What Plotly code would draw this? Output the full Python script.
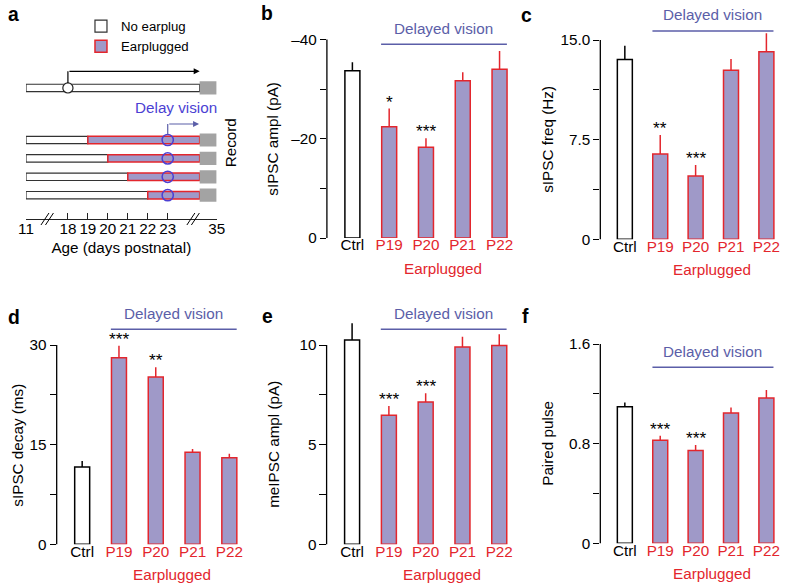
import plotly.graph_objects as go

# Layout is designed in reference-image pixels (788 x 585).  The rendered page is
# photographed with a small fixed rescale (about 0.98 horizontally, 0.986 vertically,
# 8 px side inset), so reference pixels are converted to paper fractions through that
# mapping and absolute pixel sizes are enlarged by S.
REF_W, REF_H = 788, 585
PAGE_W = 788
SX, SY = 0.98, 0.986
INSET = 8
PAGE_H = round(REF_H / SY)
S = 1 / ((SX + SY) / 2)

def pxx(x):
    return (x - INSET) / (SX * PAGE_W)

def pxy(y):
    return 1 - y / REF_H

def sz(v):
    return v * S

# ---------------- data ----------------
categories = ["Ctrl", "P19", "P20", "P21", "P22"]

# b: sIPSC amplitude (pA)
ampl_vals = [-33.7, -22.4, -18.3, -31.7, -34.0]
ampl_err = [1.7, 3.7, 1.8, 1.7, 3.7]
ampl_sig = ["", "*", "***", "", ""]
# c: sIPSC frequency (Hz)
freq_vals = [13.54, 6.42, 4.76, 12.72, 14.12]
freq_err = [1.03, 1.43, 0.83, 0.85, 1.38]
freq_sig = ["", "**", "***", "", ""]
# d: sIPSC decay (ms)
decay_vals = [11.63, 28.09, 25.18, 13.84, 13.04]
decay_err = [0.91, 1.81, 1.46, 0.50, 0.60]
decay_sig = ["", "***", "**", "", ""]
# e: meIPSC amplitude (pA)
mini_vals = [10.25, 6.47, 7.14, 9.90, 9.98]
mini_err = [0.84, 0.47, 0.44, 0.52, 0.56]
mini_sig = ["", "***", "***", "", ""]
# f: paired pulse ratio
ppr_vals = [1.096, 0.827, 0.746, 1.046, 1.166]
ppr_err = [0.035, 0.037, 0.043, 0.045, 0.064]
ppr_sig = ["", "***", "***", "", ""]

# a: rearing schedule
age_ticks = [11, 18, 19, 20, 21, 22, 23, 35]
plug_days = [19, 20, 21, 22]
control_event_day = 18
vision_day = 23
start_day = 11
record_day = 35

# ---------------- style ----------------
PURPLE = "#9f99c8"
RED = "#e3262d"
BLUE = "#5b5ea8"
VIOLET = "#4b3fd3"
FONT = "Liberation Sans, Arial, sans-serif"
F15 = sz(15)

fig = go.Figure()
shapes = []
annotations = []

# ----- panel a : broken age axis -----
AX_A = [15.9, 25.45]          # 11 and 35 sit at the ends of a broken axis
REC_START = 24.6              # rearing bars end here (after the break)
def age_pos(d):
    if d <= start_day:
        return AX_A[0]
    if d >= record_day:
        return AX_A[1]
    return d

A_DOM_X = [26, 216.7]
A_DOM_Y = [0, 219]
ROW_PX = 18.4
ROW0_PX = 140
ctrl_row = -2.83
plug_rows = [0, 1, 2, 3]
YR_A = [(A_DOM_Y[1] - ROW0_PX) / ROW_PX, (A_DOM_Y[0] - ROW0_PX) / ROW_PX]

def a_px(d, r):
    px = A_DOM_X[0] + (d - AX_A[0]) / (AX_A[1] - AX_A[0]) * (A_DOM_X[1] - A_DOM_X[0])
    py = ROW0_PX + r * ROW_PX
    return px, py

all_rows = [ctrl_row] + plug_rows
white_end = [REC_START] + [age_pos(d) for d in plug_days]
fig.add_trace(go.Bar(
    name="No earplug", orientation="h", y=all_rows,
    base=[age_pos(start_day)] * len(all_rows),
    x=[e - age_pos(start_day) for e in white_end],
    width=0.4, marker=dict(color="white", line=dict(color="#333333", width=1.2)),
    xaxis="x", yaxis="y", hoverinfo="skip"))
fig.add_trace(go.Bar(
    name="Earplugged", orientation="h", y=plug_rows,
    base=[age_pos(d) for d in plug_days],
    x=[REC_START - age_pos(d) for d in plug_days],
    width=0.4, marker=dict(color=PURPLE, line=dict(color=RED, width=1.5)),
    xaxis="x", yaxis="y", hoverinfo="skip"))
fig.add_trace(go.Bar(
    name="Record", orientation="h", y=all_rows,
    base=[REC_START] * len(all_rows), x=[AX_A[1] - REC_START] * len(all_rows),
    width=0.72, marker=dict(color="#a3a3a3", line=dict(width=0)),
    xaxis="x", yaxis="y", showlegend=False, hoverinfo="skip"))
fig.add_trace(go.Scatter(
    x=[age_pos(control_event_day)], y=[ctrl_row], mode="markers",
    marker=dict(size=sz(10), color="white", line=dict(color="#222222", width=1.2)),
    xaxis="x", yaxis="y", cliponaxis=False, showlegend=False, hoverinfo="skip"))
fig.add_trace(go.Scatter(
    x=[age_pos(vision_day)] * len(plug_rows), y=plug_rows, mode="markers",
    marker=dict(size=sz(11), color="rgba(0,0,0,0)", line=dict(color=VIOLET, width=1.5)),
    xaxis="x", yaxis="y", cliponaxis=False, showlegend=False, hoverinfo="skip"))

# arrows in panel a
arr_ctrl_y = ctrl_row - 0.9
shapes.append(dict(type="line", xref="x", yref="y", x0=age_pos(control_event_day), x1=age_pos(control_event_day),
                   y0=ctrl_row - 0.27, y1=arr_ctrl_y, line=dict(color="black", width=1.2)))
annotations.append(dict(xref="x", yref="y", axref="x", ayref="y", x=REC_START, y=arr_ctrl_y,
                        ax=age_pos(control_event_day), ay=arr_ctrl_y, text="", showarrow=True,
                        arrowhead=2, arrowsize=1, arrowwidth=1.2, arrowcolor="black"))
arr_vis_y = plug_rows[0] - 0.87
shapes.append(dict(type="line", xref="x", yref="y", x0=age_pos(vision_day), x1=age_pos(vision_day),
                   y0=plug_rows[0] - 0.3, y1=arr_vis_y, line=dict(color=BLUE, width=1.2)))
annotations.append(dict(xref="x", yref="y", axref="x", ayref="y", x=REC_START - 0.03, y=arr_vis_y,
                        ax=age_pos(vision_day), ay=arr_vis_y, text="", showarrow=True,
                        arrowhead=2, arrowsize=1, arrowwidth=1.2, arrowcolor=BLUE))
annotations.append(dict(xref="x", yref="y", x=23.4, y=-1.75, text="Delay vision", showarrow=False,
                        font=dict(size=F15, color=VIOLET)))
rpx, rpy = a_px(26.19, 0.16)
annotations.append(dict(xref="paper", yref="paper", x=pxx(rpx), y=pxy(rpy), text="Record",
                        showarrow=False, textangle=-90, xanchor="center", yanchor="middle",
                        font=dict(size=F15, color="black")))
# axis break marks
for d in [16.95, 24.26]:
    xb, _ = a_px(d, 0)
    yb = A_DOM_Y[1]
    for off in [0, 4.5]:
        shapes.append(dict(type="line", xref="paper", yref="paper",
                           x0=pxx(xb - 6 + off), y0=pxy(yb + 6),
                           x1=pxx(xb + 2 + off), y1=pxy(yb - 6),
                           line=dict(color="black", width=1)))
annotations.append(dict(xref="paper", yref="paper", x=pxx(14), y=pxy(14), text="<b>a</b>",
                        showarrow=False, xanchor="center", yanchor="middle",
                        font=dict(size=sz(19), color="black")))

# ----- bar panels -----
XR = [-0.693, 4.3]
EXT = 30   # headroom (reference px) above each value axis so tall error bars are not clipped

panels = [
    dict(n=2, letter="b", ax=327, sp=36.8, yt=39.5, yb=238, vals=ampl_vals, err=ampl_err, sig=ampl_sig,
         top=-40, tickvals=[0, -10, -20, -30, -40], ticktext=["0", "", "–20", "", "–40"],
         title="sIPSC ampl (pA)", title_x=273, line_px=44.3, letter_xy=(267, 13)),
    dict(n=3, letter="c", ax=600.5, sp=35.4, yt=40, yb=239.3, vals=freq_vals, err=freq_err, sig=freq_sig,
         top=15, tickvals=[0, 3.75, 7.5, 11.25, 15], ticktext=["0", "", "7.5", "", "15.0"],
         title="sIPSC freq (Hz)", title_x=548.3, line_px=31, letter_xy=(527, 15)),
    dict(n=4, letter="d", ax=56.7, sp=36.8, yt=345, yb=544.3, vals=decay_vals, err=decay_err, sig=decay_sig,
         top=30, tickvals=[0, 7.5, 15, 22.5, 30], ticktext=["0", "", "15", "", "30"],
         title="sIPSC decay (ms)", title_x=18, line_px=329.3, letter_xy=(14, 317)),
    dict(n=5, letter="e", ax=326.7, sp=36.8, yt=345, yb=544.3, vals=mini_vals, err=mini_err, sig=mini_sig,
         top=10, tickvals=[0, 2.5, 5, 7.5, 10], ticktext=["0", "", "5", "", "10"],
         title="meIPSC ampl (pA)", title_x=273.3, line_px=329.3, letter_xy=(268, 316)),
    dict(n=6, letter="f", ax=600.5, sp=35.4, yt=344, yb=543.3, vals=ppr_vals, err=ppr_err, sig=ppr_sig,
         top=1.6, tickvals=[0, 0.4, 0.8, 1.2, 1.6], ticktext=["0", "", "0.8", "", "1.6"],
         title="Paired pulse", title_x=548.3, line_px=367.3, letter_xy=(526, 316)),
]

tick_text_x = ["Ctrl"] + ["<span style='color:%s'>%s</span>" % (RED, c) for c in categories[1:]]

layout_axes = {}
for p in panels:
    n = p["n"]
    xa, ya = "x%d" % n, "y%d" % n
    sign = -1 if p["top"] < 0 else 1
    span_px = p["yb"] - p["yt"]
    dom_top_px = max(p["yt"] - EXT, 0)
    ext_px = p["yt"] - dom_top_px
    top_ext = p["top"] * (span_px + ext_px) / span_px
    full_px = p["yb"] - dom_top_px
    bw = 15.0 / p["sp"]

    def up(e):
        return dict(type="data", symmetric=False,
                    array=[v if sign > 0 else 0 for v in e],
                    arrayminus=[0 if sign > 0 else v for v in e],
                    thickness=1.5, width=0)
    ctrl_err = up(p["err"][:1]); ctrl_err["color"] = "black"
    plug_err = up(p["err"][1:]); plug_err["color"] = RED
    fig.add_trace(go.Bar(x=categories[:1], y=p["vals"][:1], width=bw, error_y=ctrl_err,
                         marker=dict(color="white", line=dict(color="black", width=1.5)),
                         xaxis=xa, yaxis=ya, showlegend=False, hoverinfo="skip"))
    fig.add_trace(go.Bar(x=categories[1:], y=p["vals"][1:], width=bw, error_y=plug_err,
                         marker=dict(color=PURPLE, line=dict(color=RED, width=1.5)),
                         xaxis=xa, yaxis=ya, showlegend=False, hoverinfo="skip"))
    for c, v, e, s in zip(categories, p["vals"], p["err"], p["sig"]):
        if s:
            annotations.append(dict(xref=xa, yref=ya, x=c, y=v + sign * e, text=s, showarrow=False,
                                    yanchor="bottom", yshift=sz(-5), font=dict(size=sz(17), color="black")))
    dom_w = (XR[1] - XR[0]) * p["sp"]
    layout_axes["xaxis%d" % n] = dict(
        domain=[pxx(p["ax"]), min(pxx(p["ax"] + dom_w), 1)], anchor=ya, type="category",
        range=XR, showline=False, ticks="", tickvals=categories, ticktext=tick_text_x,
        ticklabelstandoff=round(sz(-4)),
        tickfont=dict(size=F15, color="black"), showgrid=False, zeroline=False, fixedrange=True)
    layout_axes["yaxis%d" % n] = dict(
        domain=[pxy(p["yb"]), pxy(dom_top_px)], anchor=xa, range=[0, top_ext],
        tickvals=p["tickvals"], ticktext=p["ticktext"], ticks="outside", ticklen=sz(6), tickwidth=1.3,
        tickcolor="black", showline=False,
        tickfont=dict(size=F15, color="black"), showgrid=False, zeroline=False, fixedrange=True)
    # value-axis spine, from 0 to the last tick
    shapes.append(dict(type="line", xref="%s domain" % xa, yref="%s domain" % ya,
                       x0=0, x1=0, y0=0, y1=span_px / full_px,
                       line=dict(color="black", width=1.3)))
    annotations.append(dict(xref="paper", yref="paper", x=pxx(p["title_x"]),
                            y=pxy((p["yt"] + p["yb"]) / 2), text=p["title"], textangle=-90,
                            showarrow=False, xanchor="center", yanchor="middle",
                            font=dict(size=F15, color="black")))
    # "Delayed vision" bracket
    yfrac = (p["yb"] - p["line_px"]) / full_px
    fx = lambda c: (c - XR[0]) / (XR[1] - XR[0])
    shapes.append(dict(type="line", xref="%s domain" % xa, yref="%s domain" % ya,
                       x0=fx(0.78), x1=fx(4.2), y0=yfrac, y1=yfrac, line=dict(color=BLUE, width=1.4)))
    annotations.append(dict(xref="%s domain" % xa, yref="%s domain" % ya, x=fx(2.49), y=yfrac,
                            yshift=sz(16), text="Delayed vision", showarrow=False, yanchor="middle",
                            font=dict(size=F15, color=BLUE)))
    annotations.append(dict(xref=xa, yref="%s domain" % ya, x=2.45, y=0, yshift=sz(-30),
                            text="Earplugged", showarrow=False, yanchor="middle",
                            font=dict(size=F15, color=RED)))
    lx, ly = p["letter_xy"]
    annotations.append(dict(xref="paper", yref="paper", x=pxx(lx), y=pxy(ly),
                            text="<b>%s</b>" % p["letter"], showarrow=False,
                            xanchor="center", yanchor="middle", font=dict(size=sz(19), color="black")))

fig.update_layout(
    autosize=True,
    margin=dict(l=0, r=0, t=0, b=0, pad=0),
    paper_bgcolor="white", plot_bgcolor="rgba(0,0,0,0)",
    font=dict(family=FONT, size=F15, color="black"),
    barmode="overlay",
    xaxis=dict(domain=[pxx(A_DOM_X[0]), pxx(A_DOM_X[1])], anchor="y", range=AX_A,
               tickvals=[age_pos(d) for d in age_ticks], ticktext=[str(d) for d in age_ticks],
               ticks="inside", ticklen=sz(6), tickwidth=1.2, tickcolor="#222222",
               ticklabelstandoff=round(sz(-4)),
               showline=True, linewidth=1.2, linecolor="#222222", showgrid=False, zeroline=False,
               tickfont=dict(size=F15), title=dict(text="Age (days postnatal)", standoff=sz(5),
                                                   font=dict(size=F15)), fixedrange=True),
    yaxis=dict(domain=[pxy(A_DOM_Y[1]), pxy(A_DOM_Y[0])], anchor="x", range=YR_A,
               visible=False, fixedrange=True),
    legend=dict(x=pxx(81), y=pxy(11), xanchor="left", yanchor="top",
                bgcolor="rgba(0,0,0,0)", font=dict(size=sz(13)), traceorder="normal"),
    shapes=shapes, annotations=annotations,
    **layout_axes,
)

# graph div pinned at the page's top-left corner
fig.write_html("out.html",
               default_width="%dpx; position:absolute; left:0; top:0" % PAGE_W,
               default_height="%dpx" % PAGE_H,
               config={"displayModeBar": False})
